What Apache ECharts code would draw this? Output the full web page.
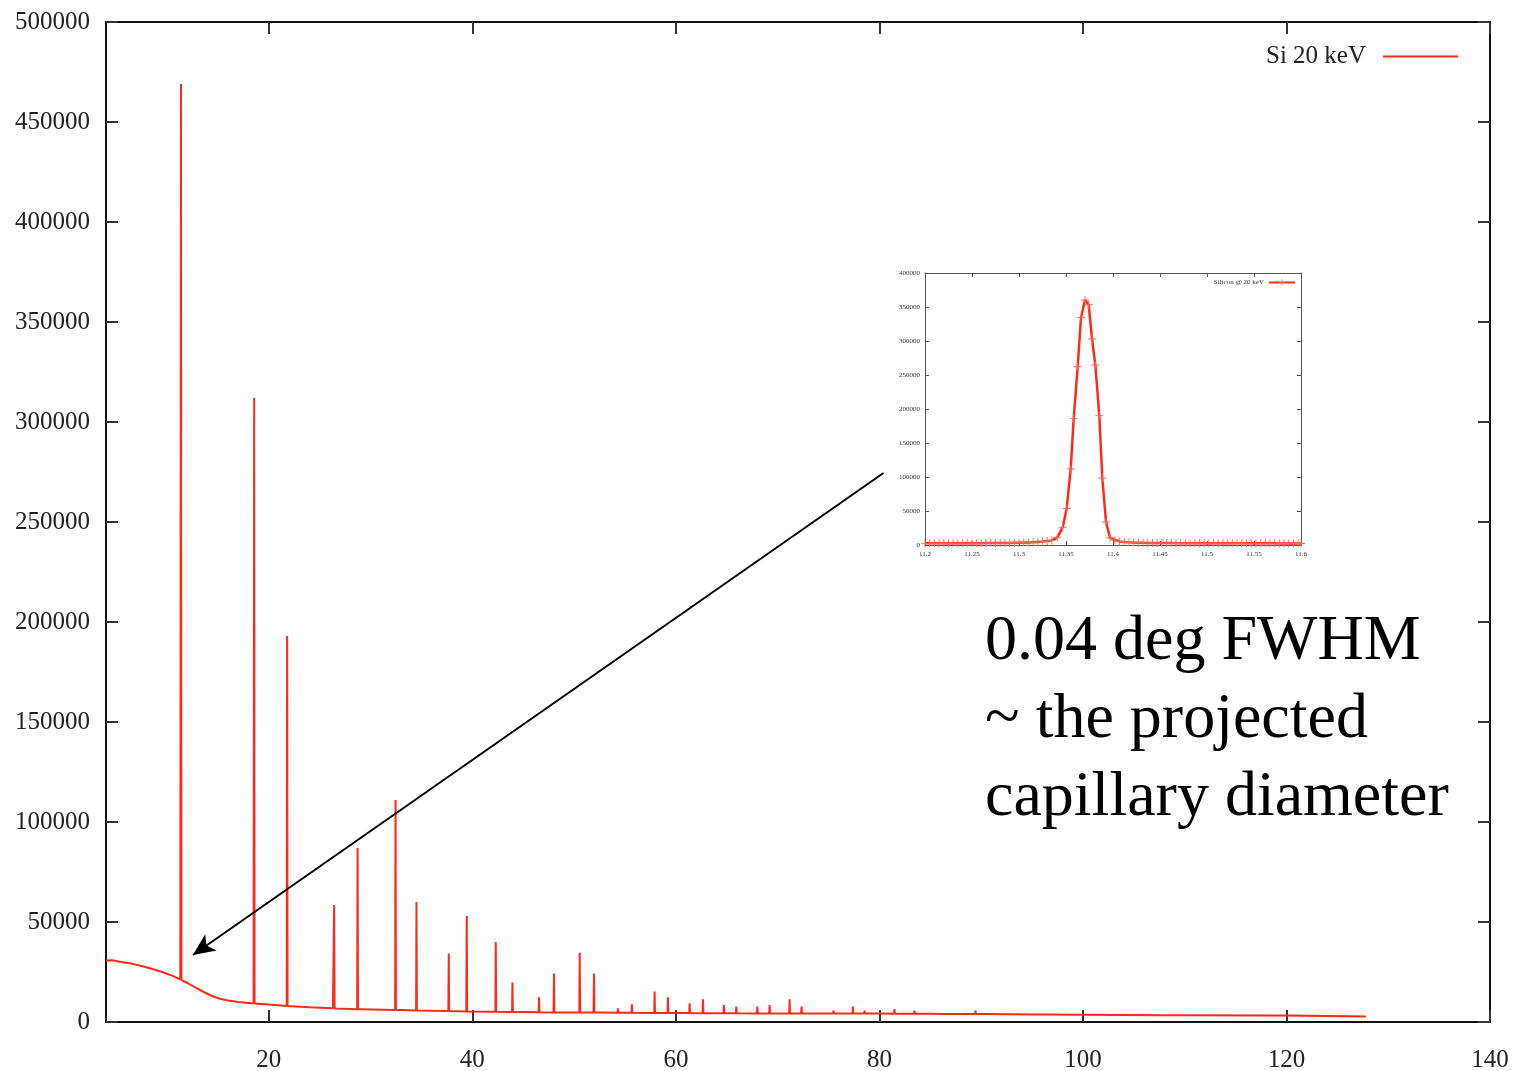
<!DOCTYPE html>
<html>
<head>
<meta charset="utf-8">
<script src="https://cdn.jsdelivr.net/npm/echarts@6/dist/echarts.min.js"></script>
<style>
html,body{margin:0;padding:0;background:#fff;}
#chart{width:1514px;height:1071px;}
</style>
</head>
<body>
<div id="chart"></div>
<script>
// ---- Main spectrum data (2-theta in degrees, counts) ----
const bgX = [4.0, 4.6, 5.5, 6.5, 7.5, 8.5, 9.5, 10.5, 11.3, 12.0, 12.8, 13.6, 14.4, 15.2, 16.0, 17.0, 18.5, 20, 22, 24, 26.3, 29, 32.9, 36, 39.4, 45, 52.5, 60, 70, 80, 90, 100, 110, 120, 127.8];
const bgY = [30700, 30900, 30000, 29200, 28000, 26600, 25000, 23200, 21300, 19500, 17200, 15000, 13000, 11600, 10700, 10000, 9300, 8700, 8000, 7400, 6900, 6400, 6000, 5600, 5300, 5000, 4700, 4500, 4300, 4200, 4000, 3600, 3400, 3200, 2700];

const peakX = [11.37, 18.56, 21.80, 26.42, 28.72, 32.45, 34.51, 37.68, 39.45, 42.30, 43.94, 46.55, 48.02, 50.55, 51.95, 54.31, 55.68, 57.91, 59.22, 61.35, 62.66, 64.72, 65.94, 68.00, 69.21, 71.17, 72.35, 75.49, 77.39, 78.54, 81.48, 83.45, 84.59, 86.46, 87.54, 89.44, 90.55, 95.40, 96.54, 99.65, 107.6, 118.6];
const peakY = [469000, 312000, 193000, 58500, 87000, 111000, 60000, 34300, 53000, 40000, 19800, 12300, 24300, 34600, 24300, 6800, 8800, 15200, 12300, 9300, 11300, 8500, 7700, 7700, 8500, 11300, 7700, 5700, 7700, 5700, 6500, 5700, 4900, 4900, 4900, 5700, 4900, 4700, 4700, 4600, 4200, 3900];
const peakBase = [21000, 9300, 8000, 6800, 6400, 6000, 5800, 5500, 5300, 5100, 5000, 4900, 4800, 4700, 4700, 4600, 4600, 4500, 4500, 4500, 4400, 4400, 4400, 4300, 4300, 4300, 4300, 4200, 4200, 4200, 4100, 4100, 4100, 4000, 4000, 4000, 4000, 3800, 3800, 3600, 3400, 3200];

const xTickValues = [20, 40, 60, 80, 100, 120, 140];

// ---- Inset (zoom on the first peak) ----
const insetX = [11.200,11.205,11.210,11.215,11.220,11.225,11.230,11.235,11.240,11.245,11.250,11.255,11.260,11.265,11.270,11.275,11.280,11.285,11.290,11.295,11.300,11.305,11.310,11.315,11.320,11.325,11.330,
  11.335,11.3407,11.3465,11.3507,11.355,11.3582,11.3624,11.366,11.3702,11.3741,11.3777,11.3812,11.3854,11.3886,11.3926,11.3968,11.402,11.407,11.412,11.417,11.422,11.427,11.432,11.437,
  11.442,11.447,11.452,11.457,11.462,11.467,11.472,11.477,11.482,11.487,11.492,11.497,11.502,11.507,11.512,11.517,11.522,11.527,11.532,11.537,11.542,11.547,11.552,11.557,11.562,11.567,11.572,11.577,11.582,11.587,11.592,11.597,11.600];
const insetY = [2400,2400,2500,2400,2500,2500,2500,2600,2500,2600,2600,2700,2700,2800,2800,2900,2900,3000,3100,3200,3300,3500,3700,4000,4400,5000,5800,
  6800,11200,25900,53800,111800,186200,262200,334700,360300,353400,302900,264700,190600,98500,33800,10700,7300,5300,4500,4000,3600,3400,3200,3000,
  2900,2900,2800,2800,2800,2700,2700,2700,2700,2600,2600,2600,2600,2600,2500,2500,2500,2500,2500,2500,2400,2400,2400,2400,2400,2400,2400,2300,2300,2300,2300,2300,2300];

// ---- Annotation ----
const arrowFrom = [80.4, 274500];
const arrowTo = [12.54, 33500];
const noteText = '0.04 deg FWHM\n~ the projected\ncapillary diameter';

// build main line data
const mainData = [];
bgX.forEach((x, i) => mainData.push([x, bgY[i]]));
peakX.forEach((x, i) => {
  mainData.push([x - 0.04, peakBase[i]]);
  mainData.push([x, peakY[i]]);
  mainData.push([x + 0.04, peakBase[i]]);
});
mainData.sort((a, b) => a[0] - b[0]);
const insetData = insetX.map((x, i) => [x, insetY[i]]);

const SERIF = '"Liberation Serif", "Times New Roman", serif';
const RED = '#ff2a1a';
const plain = v => String(v);

const chart = echarts.init(document.getElementById('chart'), null, {renderer: 'canvas'});
const plusPath = 'path://M4.4,0H5.6V4.4H10V5.6H5.6V10H4.4V5.6H0V4.4H4.4Z';

const option = {
  animation: false,
  backgroundColor: '#fff',
  grid: [
    {left: 106, top: 22, right: 24, bottom: 49, containLabel: false, outerBoundsMode: 'none'},
    {left: 925, top: 273, right: 213, bottom: 526, containLabel: false, outerBoundsMode: 'none'}
  ],
  legend: [
    {
      data: [{name: 'Si 20 keV', icon: 'rect'}],
      right: 51, top: 39, align: 'right',
      itemWidth: 75, itemHeight: 2,
      textStyle: {fontFamily: SERIF, fontSize: 25, color: '#222', padding: [0, 12, 0, 0]},
      selectedMode: false
    },
    {
      data: ['Silicon @ 20 keV'],
      right: 213, top: 274, align: 'right',
      itemWidth: 26, itemHeight: 8,
      textStyle: {fontFamily: SERIF, fontSize: 7, color: '#333'},
      selectedMode: false
    }
  ],
  xAxis: [
    {
      type: 'value', gridIndex: 0, min: 4, max: 140, position: 'bottom',
      axisLine: {show: true, onZero: false, lineStyle: {color: '#111', width: 2}},
      axisTick: {show: true, inside: true, length: 12, customValues: xTickValues, lineStyle: {color: '#333', width: 2}},
      axisLabel: {show: true, customValues: xTickValues, margin: 26, fontFamily: SERIF, fontSize: 25, color: '#222', formatter: plain},
      splitLine: {show: false}
    },
    {
      type: 'value', gridIndex: 0, min: 4, max: 140, position: 'top',
      axisLine: {show: true, onZero: false, lineStyle: {color: '#111', width: 2}},
      axisTick: {show: true, inside: true, length: 12, customValues: xTickValues, lineStyle: {color: '#333', width: 2}},
      axisLabel: {show: false},
      splitLine: {show: false}
    },
    {
      type: 'value', gridIndex: 1, min: 11.2, max: 11.6, interval: 0.05, position: 'bottom',
      axisLine: {show: true, onZero: false, lineStyle: {color: '#555', width: 1}},
      axisTick: {show: true, inside: true, length: 4, lineStyle: {color: '#555', width: 1}},
      axisLabel: {show: true, margin: 6, fontFamily: SERIF, fontSize: 7, color: '#333'},
      splitLine: {show: false}
    },
    {
      type: 'value', gridIndex: 1, min: 11.2, max: 11.6, interval: 0.05, position: 'top',
      axisLine: {show: true, onZero: false, lineStyle: {color: '#555', width: 1}},
      axisTick: {show: true, inside: true, length: 4, lineStyle: {color: '#555', width: 1}},
      axisLabel: {show: false},
      splitLine: {show: false}
    }
  ],
  yAxis: [
    {
      type: 'value', gridIndex: 0, min: 0, max: 500000, interval: 50000, position: 'left',
      axisLine: {show: true, onZero: false, lineStyle: {color: '#111', width: 2}},
      axisTick: {show: true, inside: true, length: 12, lineStyle: {color: '#333', width: 2}},
      axisLabel: {show: true, margin: 16, fontFamily: SERIF, fontSize: 25, color: '#222', formatter: plain},
      splitLine: {show: false}
    },
    {
      type: 'value', gridIndex: 0, min: 0, max: 500000, interval: 50000, position: 'right',
      axisLine: {show: true, onZero: false, lineStyle: {color: '#111', width: 2}},
      axisTick: {show: true, inside: true, length: 12, lineStyle: {color: '#333', width: 2}},
      axisLabel: {show: false},
      splitLine: {show: false}
    },
    {
      type: 'value', gridIndex: 1, min: 0, max: 400000, interval: 50000, position: 'left',
      axisLine: {show: true, onZero: false, lineStyle: {color: '#555', width: 1}},
      axisTick: {show: true, inside: true, length: 4, lineStyle: {color: '#555', width: 1}},
      axisLabel: {show: true, margin: 5, fontFamily: SERIF, fontSize: 7, color: '#333', formatter: plain},
      splitLine: {show: false}
    },
    {
      type: 'value', gridIndex: 1, min: 0, max: 400000, interval: 50000, position: 'right',
      axisLine: {show: true, onZero: false, lineStyle: {color: '#555', width: 1}},
      axisTick: {show: true, inside: true, length: 4, lineStyle: {color: '#555', width: 1}},
      axisLabel: {show: false},
      splitLine: {show: false}
    }
  ],
  series: [
    {
      name: 'Si 20 keV', type: 'line', xAxisIndex: 0, yAxisIndex: 0,
      data: mainData, showSymbol: false, symbol: 'none', sampling: null,
      itemStyle: {color: RED},
      lineStyle: {color: RED, width: 2},
      emphasis: {disabled: true}, silent: true,
      markLine: {
        silent: true, animation: false,
        symbol: ['none', 'arrow'], symbolSize: [15, 22],
        lineStyle: {color: '#000', width: 2, type: 'solid'},
        label: {show: false},
        emphasis: {disabled: true},
        data: [[{coord: arrowFrom}, {coord: arrowTo}]]
      }
    },
    {
      name: 'Silicon @ 20 keV', type: 'line', xAxisIndex: 2, yAxisIndex: 2,
      data: insetData, showSymbol: true, symbol: plusPath, symbolSize: 8,
      itemStyle: {color: '#ff6a5a'},
      lineStyle: {color: RED, width: 2.5},
      emphasis: {disabled: true}, silent: true, z: 3
    }
  ],
  graphic: [
    {
      type: 'text', left: 985, top: 603, silent: true,
      style: {text: noteText, font: '64px "Liberation Serif"', lineHeight: 78, fill: '#000'}
    }
  ]
};
chart.setOption(option);
</script>
</body>
</html>
